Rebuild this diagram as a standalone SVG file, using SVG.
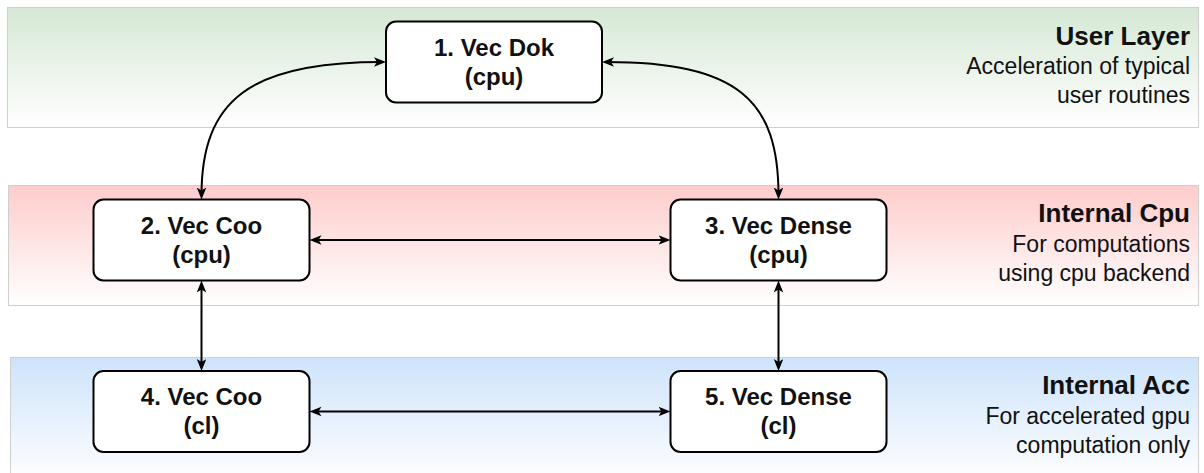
<svg xmlns="http://www.w3.org/2000/svg" width="1204" height="473" viewBox="0 0 1204 473">
  <style>
    .band { stroke: #cfcfcf; stroke-width: 1; }
    .node rect { fill: #ffffff; stroke: #000000; stroke-width: 2; }
    .node text { font-family: "Liberation Sans", Arial, Helvetica, sans-serif; font-size: 24px; font-weight: bold; fill: #111111; text-anchor: middle; }
    .edge { fill: none; stroke: #000000; stroke-width: 2; marker-start: url(#arrow); marker-end: url(#arrow); }
    .title { font-family: "Liberation Sans", Arial, Helvetica, sans-serif; font-size: 26px; font-weight: bold; fill: #111111; text-anchor: end; }
    .desc { font-family: "Liberation Sans", Arial, Helvetica, sans-serif; font-size: 23px; fill: #111111; text-anchor: end; }
  </style>
  <defs>
    <linearGradient id="gradUser" x1="0" y1="0" x2="0" y2="1">
      <stop offset="0" stop-color="#d5e8d4"/>
      <stop offset="1" stop-color="#ffffff"/>
    </linearGradient>
    <linearGradient id="gradCpu" x1="0" y1="0" x2="0" y2="1">
      <stop offset="0" stop-color="#fecccc"/>
      <stop offset="1" stop-color="#ffffff"/>
    </linearGradient>
    <linearGradient id="gradAcc" x1="0" y1="0" x2="0" y2="1">
      <stop offset="0" stop-color="#cde3fb"/>
      <stop offset="1" stop-color="#ffffff"/>
    </linearGradient>
    <!-- classic filled arrowhead; tip sits 4px past the path end -->
    <marker id="arrow" markerUnits="userSpaceOnUse" markerWidth="14" markerHeight="12" refX="8" refY="4.75" orient="auto-start-reverse">
      <path d="M0,0 L12,4.75 L0,9.5 L3,4.75 Z" fill="#000000"/>
    </marker>
  </defs>

  <!-- layer bands -->
  <g id="layer-user">
    <rect class="band" x="7.5" y="7.5" width="1191" height="120" fill="url(#gradUser)"/>
    <text class="title" x="1190" y="44.5">User Layer</text>
    <text class="desc" x="1190" y="74">Acceleration of typical</text>
    <text class="desc" x="1190" y="103">user routines</text>
  </g>
  <g id="layer-cpu">
    <rect class="band" x="8.5" y="185.5" width="1190" height="120" fill="url(#gradCpu)"/>
    <text class="title" x="1190" y="222">Internal Cpu</text>
    <text class="desc" x="1190" y="251.5">For computations</text>
    <text class="desc" x="1190" y="280.5">using cpu backend</text>
  </g>
  <g id="layer-acc">
    <rect class="band" x="10.5" y="357.5" width="1188" height="125" fill="url(#gradAcc)"/>
    <text class="title" x="1190" y="394">Internal Acc</text>
    <text class="desc" x="1190" y="423.5">For accelerated gpu</text>
    <text class="desc" x="1190" y="452.5">computation only</text>
  </g>

  <!-- connectors -->
  <g id="connectors">
    <path class="edge" d="M382,62 C250,62 201.5,100 201.5,195.5"/>
    <path class="edge" d="M606,62 C738,62 778.5,100 778.5,195.5"/>
    <path class="edge" d="M313.5,240 L666.5,240"/>
    <path class="edge" d="M201.5,284.5 L201.5,367"/>
    <path class="edge" d="M778.5,284.5 L778.5,367"/>
    <path class="edge" d="M313.5,411.5 L666.5,411.5"/>
  </g>

  <!-- nodes -->
  <g id="node-1" class="node">
    <rect x="386" y="21.5" width="216" height="81" rx="10" ry="10"/>
    <text x="494" y="55.5">1. Vec Dok</text>
    <text x="494" y="84.5">(cpu)</text>
  </g>
  <g id="node-2" class="node">
    <rect x="93.5" y="199.5" width="216" height="81" rx="10" ry="10"/>
    <text x="201.5" y="233.5">2. Vec Coo</text>
    <text x="201.5" y="262.5">(cpu)</text>
  </g>
  <g id="node-3" class="node">
    <rect x="670.5" y="199.5" width="216" height="81" rx="10" ry="10"/>
    <text x="778.5" y="233.5">3. Vec Dense</text>
    <text x="778.5" y="262.5">(cpu)</text>
  </g>
  <g id="node-4" class="node">
    <rect x="93.5" y="371" width="216" height="81" rx="10" ry="10"/>
    <text x="201.5" y="405">4. Vec Coo</text>
    <text x="201.5" y="434">(cl)</text>
  </g>
  <g id="node-5" class="node">
    <rect x="670.5" y="371" width="216" height="81" rx="10" ry="10"/>
    <text x="778.5" y="405">5. Vec Dense</text>
    <text x="778.5" y="434">(cl)</text>
  </g>
</svg>
